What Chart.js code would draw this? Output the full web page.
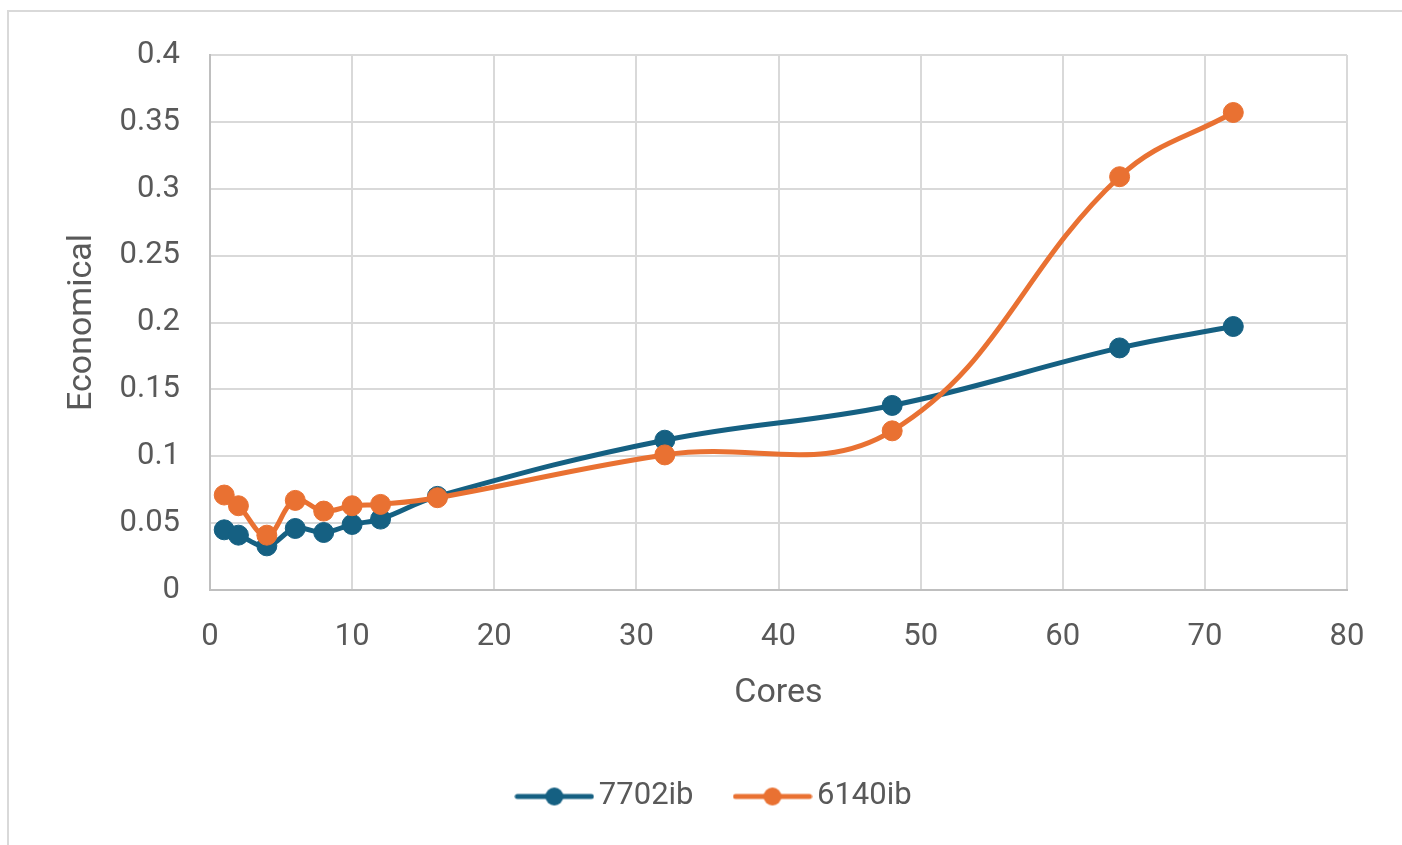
<!DOCTYPE html>
<html>
<head>
<meta charset="utf-8">
<script src="https://cdn.jsdelivr.net/npm/chart.js@4/dist/chart.umd.min.js"></script>
<style>
  html, body { margin: 0; padding: 0; background: #ffffff; }
  #wrap { position: relative; width: 1402px; height: 845px; overflow: hidden; }
  #frame { position: absolute; left: 7px; top: 10px; width: 1500px; height: 900px;
           border: 2px solid #d9d9d9; box-sizing: border-box; }
  #chart { position: absolute; left: 0; top: 0; }
</style>
</head>
<body>
<div id="wrap">
  <div id="frame"></div>
  <canvas id="chart" width="1402" height="845"></canvas>
</div>
<script>
// Core counts on the x axis
const cores = [1, 2, 4, 6, 8, 10, 12, 16, 32, 48, 64, 72];
// Economical score per core count
const series7702ib = [0.045, 0.041, 0.033, 0.046, 0.043, 0.049, 0.053, 0.070, 0.112, 0.138, 0.181, 0.197];
const series6140ib = [0.071, 0.063, 0.041, 0.067, 0.059, 0.063, 0.064, 0.069, 0.101, 0.119, 0.309, 0.357];
// Axis tick labels
const xTickLabels = ['0', '10', '20', '30', '40', '50', '60', '70', '80'];
const yTickLabels = ['0', '0.05', '0.1', '0.15', '0.2', '0.25', '0.3', '0.35', '0.4'];

const BLUE = '#156082';
const ORANGE = '#E97132';
const TEXT = '#595959';
const FONT = 'Roboto, "Liberation Sans", sans-serif';

function toPoints(values) {
  return cores.map((c, i) => ({ x: c, y: values[i] }));
}

// Legend swatch: short line with a marker in the middle
function legendSwatch(color) {
  const c = document.createElement('canvas');
  c.width = 80; c.height = 22;
  const g = c.getContext('2d');
  g.strokeStyle = color; g.lineWidth = 5; g.lineCap = 'round';
  g.beginPath(); g.moveTo(3, 11); g.lineTo(77, 11); g.stroke();
  g.fillStyle = color;
  g.beginPath(); g.arc(40, 11, 9, 0, Math.PI * 2); g.fill();
  return c;
}
const swatches = [legendSwatch(BLUE), legendSwatch(ORANGE)];

// Shift the legend row so it sits centred under the plot as in the layout
const legendShift = {
  id: 'legendShift',
  afterLayout(chart) {
    if (chart.legend) chart.legend.left = 90;
  }
};

new Chart(document.getElementById('chart'), {
  type: 'line',
  data: {
    datasets: [
      {
        label: '7702ib',
        data: toPoints(series7702ib),
        borderColor: BLUE, backgroundColor: BLUE,
        pointBackgroundColor: BLUE, pointBorderColor: BLUE,
        borderWidth: 5, pointRadius: 10, pointBorderWidth: 1, pointHoverRadius: 10,
        tension: 0.4, order: 1
      },
      {
        label: '6140ib',
        data: toPoints(series6140ib),
        borderColor: ORANGE, backgroundColor: ORANGE,
        pointBackgroundColor: ORANGE, pointBorderColor: ORANGE,
        borderWidth: 5, pointRadius: 10, pointBorderWidth: 1, pointHoverRadius: 10,
        tension: 0.4, order: 0
      }
    ]
  },
  options: {
    responsive: false,
    devicePixelRatio: 1,
    animation: false,
    events: [],
    layout: { padding: { left: 10, right: 55, top: 55, bottom: 23 } },
    scales: {
      x: {
        type: 'linear', min: 0, max: 80,
        ticks: {
          stepSize: 10, color: TEXT, padding: 29,
          font: { family: FONT, size: 31 },
          callback: (v, i) => xTickLabels[i]
        },
        grid: { color: '#d9d9d9', lineWidth: 2, drawTicks: false },
        border: { color: '#bfbfbf', width: 2 },
        title: {
          display: true, text: 'Cores', color: TEXT,
          font: { family: FONT, size: 34 }, padding: { top: 0, bottom: 17 }
        },
        afterFit: s => { s.height = 141; }
      },
      y: {
        type: 'linear', min: 0, max: 0.4,
        ticks: {
          stepSize: 0.05, color: TEXT, padding: 30,
          font: { family: FONT, size: 31 },
          callback: (v, i) => yTickLabels[i]
        },
        grid: { color: '#d9d9d9', lineWidth: 2, drawTicks: false },
        border: { color: '#bfbfbf', width: 2 },
        title: {
          display: true, text: 'Economical', color: TEXT,
          font: { family: FONT, size: 34 }, padding: { top: 52, bottom: 0 }
        },
        afterFit: s => { s.width = 200; }
      }
    },
    plugins: {
      tooltip: { enabled: false },
      legend: {
        position: 'bottom',
        labels: {
          usePointStyle: true,
          pointStyleWidth: 58,
          padding: 50,
          color: TEXT,
          font: { family: FONT, size: 31 },
          sort: (a, b) => a.datasetIndex - b.datasetIndex,
          generateLabels(chart) {
            const items = Chart.defaults.plugins.legend.labels.generateLabels(chart);
            items.forEach(it => { it.pointStyle = swatches[it.datasetIndex]; });
            return items;
          }
        }
      }
    }
  },
  plugins: [legendShift]
});
</script>
</body>
</html>
